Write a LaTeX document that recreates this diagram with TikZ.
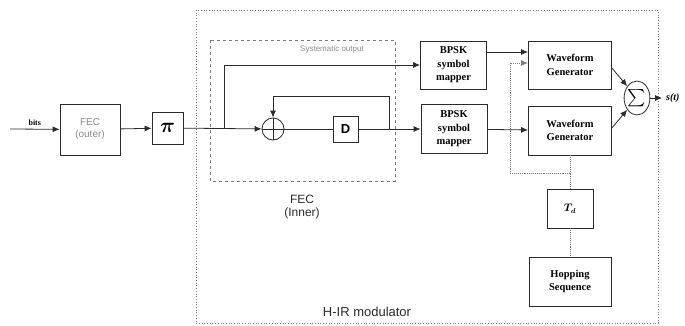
\documentclass[tikz,border=0pt]{standalone}
\usepackage{amsmath}
\usepackage{fontspec}
\setmainfont{Liberation Serif}
\setsansfont{Liberation Sans}
\usepackage{tikz}
\usetikzlibrary{positioning,arrows.meta,shapes.geometric,calc}
\definecolor{hdark}{HTML}{2B2B2B}
\definecolor{hgray}{HTML}{8A8A8A}
\definecolor{hdot}{HTML}{7A7A7A}
\tikzset{hbox/.style={rectangle, draw=hdark, line width=0.8pt, align=center, inner sep=1pt, font=\rmfamily\bfseries\fontsize{10.5}{13.5}\selectfont}}
\tikzset{hsoft/.style={hbox, text=hgray, font=\sffamily\fontsize{10}{12}\selectfont}}
\tikzset{hedge/.style={-{Latex[length=7pt,width=6pt]}, draw=hdark, line width=0.8pt}}
\tikzset{hwire/.style={draw=hdark, line width=0.8pt}}
\tikzset{hdotted/.style={draw=hdot, densely dotted, line width=0.9pt}}
\tikzset{hdotedge/.style={hdotted, -{Latex[length=7pt,width=6pt]}}}
\tikzset{hframe/.style={draw=hdot, dotted, line width=0.7pt}}
\tikzset{hlabel/.style={font=\sffamily\fontsize{12}{13}\selectfont, align=center, text=hdark}}

\begin{document}
\begin{tikzpicture}[x=1pt,y=-1pt]
  \useasboundingbox (0,0) rectangle (685,325);

  % frames
  \draw[hframe] (196,10) rectangle (658,323);
  \draw[hframe, dashed] (210,40) rectangle (395,181);

  \coordinate (bitsin) at (10,129);
  \node[hsoft, minimum width=60pt, minimum height=51pt] (fecout) at (90,129.5) {FEC\\(outer)};
  \node[hbox, minimum width=31pt, minimum height=32pt] (perm) at (167.5,128) {\fontsize{22}{22}\selectfont$\boldsymbol{\pi}$};

  \node[circle, draw=hdark, line width=0.8pt, minimum size=22pt, inner sep=0pt] (xor) at (273,129) {};
  \draw[hwire] (xor.north) -- (xor.south) (xor.west) -- (xor.east);
  \node[hbox, font=\sffamily\bfseries\fontsize{13}{13}\selectfont, minimum width=25pt, minimum height=26pt] (delay) at (345.5,129) {D};
  \coordinate (branch) at (224,129);
  \coordinate (fbtap) at (389,129);

  \node[hbox, minimum width=66pt, minimum height=48pt] (bpska) at (453.5,65) {BPSK\\symbol\\mapper};
  \node[hbox, minimum width=66pt, minimum height=49pt] (bpskb) at (454,129) {BPSK\\symbol\\mapper};
  \node[hbox, minimum width=83pt, minimum height=48pt] (wga) at (570,65) {Waveform\\Generator};
  \node[hbox, minimum width=83pt, minimum height=49pt] (wgb) at (570,130.5) {Waveform\\Generator};
  \node[ellipse, draw=hdark, line width=0.8pt, minimum width=24pt, minimum height=34pt, inner sep=0pt] (sum) at (637,98) {\fontsize{16}{16}\selectfont$\sum$};
  \coordinate (sout) at (662,98);
  \node[anchor=west, inner sep=0pt, font=\bfseries\itshape\fontsize{10}{10}\selectfont] (sig) at (666,98) {s(t)};

  \node[hbox, minimum width=46pt, minimum height=39pt] (td) at (570,208.5) {$\boldsymbol{T_{d}}$};
  \node[hbox, minimum width=82pt, minimum height=49pt] (hop) at (570,281.5) {Hopping\\Sequence};
  \coordinate (tdtap) at (570,173);

  \node[hlabel, font=\sffamily\fontsize{8}{9}\selectfont, text=hgray] (systxt) at (332,49) {Systematic output};
  \node[hlabel] (fecin) at (302,207) {FEC\\(Inner)};
  \node[hlabel, font=\sffamily\fontsize{13}{14}\selectfont] (hirtxt) at (367,312) {H-IR modulator};

  \draw[hedge] (bitsin) -- (fecout) node[midway, above, font=\bfseries\fontsize{8}{8}\selectfont] {bits};
  \draw[hedge] (fecout) -- (perm);
  \draw[hedge] (perm) -- (xor);
  \draw[hedge] (branch) |- (bpska);
  \draw[hwire] (xor) -- (delay);
  \draw[hedge] (delay) -- (bpskb);
  \draw[hedge] (fbtap) -- ++(0,-33) -| (xor);

  \draw[hedge] ([yshift=13pt]bpska.east) -- ([yshift=13pt]wga.west);
  \draw[hedge] (bpskb) -- (wgb);
  \draw[hedge] ([yshift=-3pt]wga.east) -- (sum);
  \draw[hedge] ([yshift=2.5pt]wgb.east) -- (sum);
  \draw[hedge] (sum) -- (sout);

  \draw[hdotted] (td) -- (wgb);
  \draw[hdotedge] (tdtap) -- ++(-60,0) |- ([yshift=2pt]wga.west);
  \draw[hdotted] (td) -- (hop);
\end{tikzpicture}
\end{document}
